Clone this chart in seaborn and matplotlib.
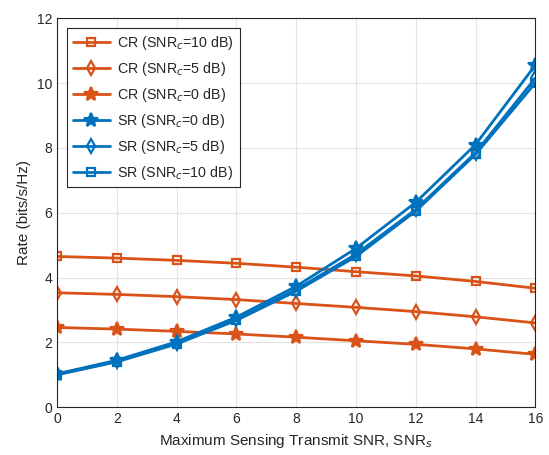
import numpy as np
import pandas as pd
import seaborn as sns
import matplotlib.pyplot as plt

# data
snr_s = [0, 2, 4, 6, 8, 10, 12, 14, 16]
cr_10 = [4.65, 4.60, 4.53, 4.44, 4.32, 4.18, 4.05, 3.88, 3.67]
cr_5 = [3.53, 3.48, 3.41, 3.32, 3.20, 3.08, 2.95, 2.79, 2.60]
cr_0 = [2.46, 2.41, 2.34, 2.26, 2.16, 2.05, 1.94, 1.80, 1.63]
sr_0 = [1.03, 1.45, 2.02, 2.78, 3.73, 4.90, 6.32, 8.10, 10.55]
sr_5 = [1.02, 1.42, 1.98, 2.72, 3.63, 4.72, 6.10, 7.85, 10.15]
sr_10 = [1.00, 1.40, 1.95, 2.68, 3.58, 4.65, 6.05, 7.80, 10.00]

sns.set_style("white")
plt.rcParams['font.family'] = ['Liberation Sans', 'DejaVu Sans']

orange = '#D95319'
blue = '#0072BD'

series = [
    ('CR (SNR$_c$=10 dB)', cr_10, orange, 's', False, 6),
    ('CR (SNR$_c$=5 dB)', cr_5, orange, 'd', False, 7),
    ('CR (SNR$_c$=0 dB)', cr_0, orange, '*', True, 10.5),
    ('SR (SNR$_c$=0 dB)', sr_0, blue, '*', True, 10.5),
    ('SR (SNR$_c$=5 dB)', sr_5, blue, 'd', False, 7),
    ('SR (SNR$_c$=10 dB)', sr_10, blue, 's', False, 6),
]

fig = plt.figure(figsize=(5.49, 4.55), dpi=100)
ax = fig.add_axes([0.104, 0.105, 0.871, 0.855])

for label, vals, col, mk, filled, ms in series:
    sns.lineplot(x=snr_s, y=vals, ax=ax, color=col, marker=mk,
                 markerfacecolor=col if filled else 'none', markeredgecolor=col,
                 markersize=ms, markeredgewidth=1.6, linewidth=2, label=label)

ax.set_xlim(0, 16)
ax.set_ylim(0, 12)
ax.set_xticks(range(0, 17, 2))
ax.set_yticks(range(0, 13, 2))
ax.grid(True, color='#e3e3e3', linewidth=0.8)
for s in ax.spines.values():
    s.set_color('#262626')
    s.set_linewidth(0.8)
ax.tick_params(direction='in', length=4, labelsize=10, colors='#262626')
ax.set_xlabel('Maximum Sensing Transmit SNR, SNR$_s$', fontsize=11, color='#262626')
ax.set_ylabel('Rate (bits/s/Hz)', fontsize=11, color='#262626')

leg = ax.legend(loc='upper left', fontsize=10.3, fancybox=False, framealpha=1,
                edgecolor='#262626', handlelength=2.6, labelspacing=0.55,
                borderpad=0.4, handletextpad=0.5, bbox_to_anchor=(0.006, 0.992))
leg.get_frame().set_linewidth(0.8)

fig.savefig('out.png', dpi=100)
